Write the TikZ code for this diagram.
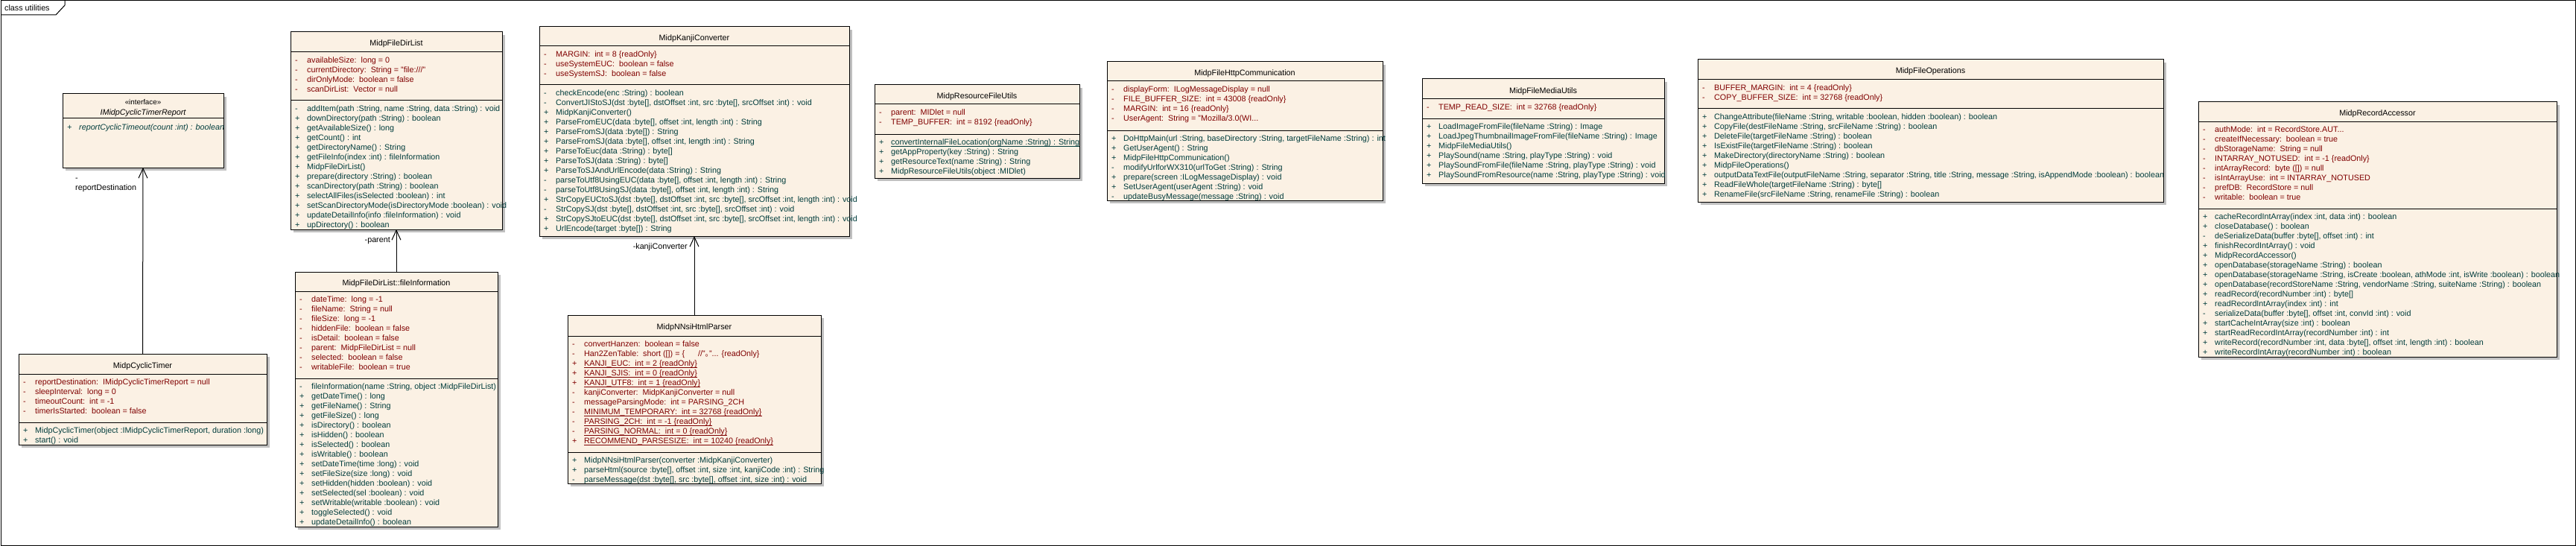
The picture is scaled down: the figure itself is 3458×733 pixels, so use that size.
\documentclass[tikz,border=0pt]{standalone}
\usepackage{fontspec}
\setmainfont{Liberation Sans}
\newfontfamily\cjkf{Noto Sans CJK JP}
\usetikzlibrary{arrows.meta}
\definecolor{boxfill}{RGB}{251,241,228}
\definecolor{attrc}{RGB}{128,0,0}
\definecolor{methc}{RGB}{0,60,60}
\definecolor{shadowc}{RGB}{192,192,192}
\newcommand\umlfont{\fontsize{10.77pt}{13pt}\selectfont}
\newcommand\vis[1]{\makebox[16pt][l]{#1}}
\newcommand\acol{:\ \ }
\newcommand\ulx[1]{\setbox0\hbox{#1}\rlap{\rule[-2.2pt]{\wd0}{0.9pt}}\box0}
\tikzset{
  classbox/.style={draw=black, line width=1pt, fill=boxfill, inner sep=0pt, outer sep=0pt},
  sepline/.style={draw=black, line width=1pt},
  frameline/.style={draw=black, line width=1pt},
  namestyle/.style={anchor=base, inner sep=0pt, font=\umlfont, text=black},
  rowstyle/.style={anchor=base west, inner sep=0pt, font=\umlfont},
  assoc/.style={draw=black, line width=1pt, -{Straight Barb[length=13pt,width=12pt]}},
  lbl/.style={inner sep=0pt, font=\umlfont, text=black},
}
% #1 id, #2 left, #3 top, #4 right, #5 bottom, #6 sep1, #7 sep2, #8 name
\newcommand\umlbox[8]{%
  \fill[shadowc] (#2+4,#3+4) rectangle (#4+4,#5+4);
  \node[classbox, minimum width={#4-#2}, minimum height={#5-#3}] (#1) at ({(#2+#4)/2},{(#3+#5)/2}) {};
  \draw[sepline] (#2,#6) -- (#4,#6);
  \draw[sepline] (#2,#7) -- (#4,#7);
  \node[namestyle] (#1-name) at ({(#2+#4)/2},{(#3+#6)/2+5.5}) {#8};
}
% #1 id, #2 left, #3 separator y, #4 colour, #5 rows
\newcommand\umlrows[5]{%
  \node[rowstyle, text=#4] (#1) at (#2+6,#3+14.6) {\begin{tabular}[t]{@{}l@{}}#5\end{tabular}};
}
\begin{document}
\begin{tikzpicture}[x=1pt,y=-1pt]
\useasboundingbox (0,0) rectangle (3458,733);
\draw[frameline] (1,1) rectangle (3457,732);
\draw[frameline] (1,20) -- (75,20) -- (87,7) -- (87,1);
\node[lbl, anchor=base west] (title) at (6,15) {class utilities};

% ---------------- interface
\fill[shadowc] (88,130) rectangle (304,229);
\node[classbox, minimum width=216, minimum height=99] (iface) at (192,175.5) {};
\draw[sepline] (84,158) -- (300,158);
\node[namestyle, font=\fontsize{9.8pt}{12pt}\selectfont] (iface-st) at (192,140) {«interface»};
\node[namestyle, font=\umlfont\itshape] (iface-name) at (192,154.6) {IMidpCyclicTimerReport};
\node[rowstyle, text=methc, font=\umlfont\itshape] (iface-m) at (90,175) {\begin{tabular}[t]{@{}l@{}}\vis{+}reportCyclicTimeout(count :int) : boolean\end{tabular}};

% ---------------- MidpCyclicTimer
\umlbox{timer}{25}{475}{358}{597}{502}{567}{MidpCyclicTimer}
\umlrows{timer-a}{25}{502}{attrc}{%
\vis{-}reportDestination\acol IMidpCyclicTimerReport = null\\
\vis{-}sleepInterval\acol long = 0\\
\vis{-}timeoutCount\acol int = -1\\
\vis{-}timerIsStarted\acol boolean = false}
\umlrows{timer-m}{25}{567}{methc}{%
\vis{+}MidpCyclicTimer(object :IMidpCyclicTimerReport, duration :long)\\
\vis{+}start() : void}

% ---------------- MidpFileDirList
\umlbox{fdl}{390}{43}{674}{308}{70}{135}{MidpFileDirList}
\umlrows{fdl-a}{390}{70}{attrc}{%
\vis{-}availableSize\acol long = 0\\
\vis{-}currentDirectory\acol String = "file:///"\\
\vis{-}dirOnlyMode\acol boolean = false\\
\vis{-}scanDirList\acol Vector = null}
\umlrows{fdl-m}{390}{135}{methc}{%
\vis{-}addItem(path :String, name :String, data :String) : void\\
\vis{+}downDirectory(path :String) : boolean\\
\vis{+}getAvailableSize() : long\\
\vis{+}getCount() : int\\
\vis{+}getDirectoryName() : String\\
\vis{+}getFileInfo(index :int) : fileInformation\\
\vis{+}MidpFileDirList()\\
\vis{+}prepare(directory :String) : boolean\\
\vis{+}scanDirectory(path :String) : boolean\\
\vis{+}selectAllFiles(isSelected :boolean) : int\\
\vis{+}setScanDirectoryMode(isDirectoryMode :boolean) : void\\
\vis{+}updateDetailInfo(info :fileInformation) : void\\
\vis{+}upDirectory() : boolean}

% ---------------- MidpFileDirList::fileInformation
\umlbox{finfo}{396}{365}{668}{707}{391}{508}{MidpFileDirList::fileInformation}
\umlrows{finfo-a}{396}{391}{attrc}{%
\vis{-}dateTime\acol long = -1\\
\vis{-}fileName\acol String = null\\
\vis{-}fileSize\acol long = -1\\
\vis{-}hiddenFile\acol boolean = false\\
\vis{-}isDetail\acol boolean = false\\
\vis{-}parent\acol MidpFileDirList = null\\
\vis{-}selected\acol boolean = false\\
\vis{-}writableFile\acol boolean = true}
\umlrows{finfo-m}{396}{508}{methc}{%
\vis{-}fileInformation(name :String, object :MidpFileDirList)\\
\vis{+}getDateTime() : long\\
\vis{+}getFileName() : String\\
\vis{+}getFileSize() : long\\
\vis{+}isDirectory() : boolean\\
\vis{+}isHidden() : boolean\\
\vis{+}isSelected() : boolean\\
\vis{+}isWritable() : boolean\\
\vis{+}setDateTime(time :long) : void\\
\vis{+}setFileSize(size :long) : void\\
\vis{+}setHidden(hidden :boolean) : void\\
\vis{+}setSelected(sel :boolean) : void\\
\vis{+}setWritable(writable :boolean) : void\\
\vis{+}toggleSelected() : void\\
\vis{+}updateDetailInfo() : boolean}

% ---------------- MidpKanjiConverter
\umlbox{kanji}{724}{36}{1140}{317}{62}{114}{MidpKanjiConverter}
\umlrows{kanji-a}{724}{62}{attrc}{%
\vis{-}MARGIN\acol int = 8 \{readOnly\}\\
\vis{-}useSystemEUC\acol boolean = false\\
\vis{-}useSystemSJ\acol boolean = false}
\umlrows{kanji-m}{724}{114}{methc}{%
\vis{-}checkEncode(enc :String) : boolean\\
\vis{-}ConvertJIStoSJ(dst :byte[], dstOffset :int, src :byte[], srcOffset :int) : void\\
\vis{+}MidpKanjiConverter()\\
\vis{+}ParseFromEUC(data :byte[], offset :int, length :int) : String\\
\vis{+}ParseFromSJ(data :byte[]) : String\\
\vis{+}ParseFromSJ(data :byte[], offset :int, length :int) : String\\
\vis{+}ParseToEuc(data :String) : byte[]\\
\vis{+}ParseToSJ(data :String) : byte[]\\
\vis{+}ParseToSJAndUrlEncode(data :String) : String\\
\vis{-}parseToUtf8UsingEUC(data :byte[], offset :int, length :int) : String\\
\vis{-}parseToUtf8UsingSJ(data :byte[], offset :int, length :int) : String\\
\vis{+}StrCopyEUCtoSJ(dst :byte[], dstOffset :int, src :byte[], srcOffset :int, length :int) : void\\
\vis{-}StrCopySJ(dst :byte[], dstOffset :int, src :byte[], srcOffset :int) : void\\
\vis{+}StrCopySJtoEUC(dst :byte[], dstOffset :int, src :byte[], srcOffset :int, length :int) : void\\
\vis{+}UrlEncode(target :byte[]) : String}

% ---------------- MidpNNsiHtmlParser
\umlbox{nnsi}{762}{423}{1102}{649}{451}{607}{MidpNNsiHtmlParser}
\umlrows{nnsi-a}{762}{451}{attrc}{%
\vis{-}convertHanzen\acol boolean = false\\
\vis{-}Han2ZenTable\acol short ([]) = \{\ \ \ \ \ \ //"{\cjkf ｡}"... \{readOnly\}\\
\vis{+}\ulx{KANJI\_EUC\acol int = 2 \{readOnly\}}\\
\vis{+}\ulx{KANJI\_SJIS\acol int = 0 \{readOnly\}}\\
\vis{+}\ulx{KANJI\_UTF8\acol int = 1 \{readOnly\}}\\
\vis{-}kanjiConverter\acol MidpKanjiConverter = null\\
\vis{-}messageParsingMode\acol int = PARSING\_2CH\\
\vis{-}\ulx{MINIMUM\_TEMPORARY\acol int = 32768 \{readOnly\}}\\
\vis{-}\ulx{PARSING\_2CH\acol int = -1 \{readOnly\}}\\
\vis{-}\ulx{PARSING\_NORMAL\acol int = 0 \{readOnly\}}\\
\vis{+}\ulx{RECOMMEND\_PARSESIZE\acol int = 10240 \{readOnly\}}}
\umlrows{nnsi-m}{762}{607}{methc}{%
\vis{+}MidpNNsiHtmlParser(converter :MidpKanjiConverter)\\
\vis{+}parseHtml(source :byte[], offset :int, size :int, kanjiCode :int) : String\\
\vis{-}parseMessage(dst :byte[], src :byte[], offset :int, size :int) : void}

% ---------------- MidpResourceFileUtils
\umlbox{res}{1174}{114}{1449}{239}{140}{180}{MidpResourceFileUtils}
\umlrows{res-a}{1174}{140}{attrc}{%
\vis{-}parent\acol MIDlet = null\\
\vis{-}TEMP\_BUFFER\acol int = 8192 \{readOnly\}}
\umlrows{res-m}{1174}{180}{methc}{%
\vis{+}\ulx{convertInternalFileLocation(orgName :String) : String}\\
\vis{+}getAppProperty(key :String) : String\\
\vis{+}getResourceText(name :String) : String\\
\vis{+}MidpResourceFileUtils(object :MIDlet)}

% ---------------- MidpFileHttpCommunication
\umlbox{http}{1486}{83}{1856}{269}{109}{175}{MidpFileHttpCommunication}
\umlrows{http-a}{1486}{109}{attrc}{%
\vis{-}displayForm\acol ILogMessageDisplay = null\\
\vis{-}FILE\_BUFFER\_SIZE\acol int = 43008 \{readOnly\}\\
\vis{-}MARGIN\acol int = 16 \{readOnly\}\\
\vis{-}UserAgent\acol String = "Mozilla/3.0(WI...}
\umlrows{http-m}{1486}{175}{methc}{%
\vis{+}DoHttpMain(url :String, baseDirectory :String, targetFileName :String) : int\\
\vis{+}GetUserAgent() : String\\
\vis{+}MidpFileHttpCommunication()\\
\vis{-}modifyUrlforWX310(urlToGet :String) : String\\
\vis{+}prepare(screen :ILogMessageDisplay) : void\\
\vis{+}SetUserAgent(userAgent :String) : void\\
\vis{-}updateBusyMessage(message :String) : void}

% ---------------- MidpFileMediaUtils
\umlbox{media}{1909}{106}{2234}{246}{133}{159}{MidpFileMediaUtils}
\umlrows{media-a}{1909}{133}{attrc}{%
\vis{-}TEMP\_READ\_SIZE\acol int = 32768 \{readOnly\}}
\umlrows{media-m}{1909}{159}{methc}{%
\vis{+}LoadImageFromFile(fileName :String) : Image\\
\vis{+}LoadJpegThumbnailImageFromFile(fileName :String) : Image\\
\vis{+}MidpFileMediaUtils()\\
\vis{+}PlaySound(name :String, playType :String) : void\\
\vis{+}PlaySoundFromFile(fileName :String, playType :String) : void\\
\vis{+}PlaySoundFromResource(name :String, playType :String) : void}

% ---------------- MidpFileOperations
\umlbox{fops}{2279}{80}{2904}{271}{107}{146}{MidpFileOperations}
\umlrows{fops-a}{2279}{107}{attrc}{%
\vis{-}BUFFER\_MARGIN\acol int = 4 \{readOnly\}\\
\vis{-}COPY\_BUFFER\_SIZE\acol int = 32768 \{readOnly\}}
\umlrows{fops-m}{2279}{146}{methc}{%
\vis{+}ChangeAttribute(fileName :String, writable :boolean, hidden :boolean) : boolean\\
\vis{+}CopyFile(destFileName :String, srcFileName :String) : boolean\\
\vis{+}DeleteFile(targetFileName :String) : boolean\\
\vis{+}IsExistFile(targetFileName :String) : boolean\\
\vis{+}MakeDirectory(directoryName :String) : boolean\\
\vis{+}MidpFileOperations()\\
\vis{+}outputDataTextFile(outputFileName :String, separator :String, title :String, message :String, isAppendMode :boolean) : boolean\\
\vis{+}ReadFileWhole(targetFileName :String) : byte[]\\
\vis{+}RenameFile(srcFileName :String, renameFile :String) : boolean}

% ---------------- MidpRecordAccessor
\umlbox{rec}{2951}{137}{3432}{479}{163}{280}{MidpRecordAccessor}
\umlrows{rec-a}{2951}{163}{attrc}{%
\vis{-}authMode\acol int = RecordStore.AUT...\\
\vis{-}createIfNecessary\acol boolean = true\\
\vis{-}dbStorageName\acol String = null\\
\vis{-}INTARRAY\_NOTUSED\acol int = -1 \{readOnly\}\\
\vis{-}intArrayRecord\acol byte ([]) = null\\
\vis{-}isIntArrayUse\acol int = INTARRAY\_NOTUSED\\
\vis{-}prefDB\acol RecordStore = null\\
\vis{-}writable\acol boolean = true}
\umlrows{rec-m}{2951}{280}{methc}{%
\vis{+}cacheRecordIntArray(index :int, data :int) : boolean\\
\vis{+}closeDatabase() : boolean\\
\vis{-}deSerializeData(buffer :byte[], offset :int) : int\\
\vis{+}finishRecordIntArray() : void\\
\vis{+}MidpRecordAccessor()\\
\vis{+}openDatabase(storageName :String) : boolean\\
\vis{+}openDatabase(storageName :String, isCreate :boolean, athMode :int, isWrite :boolean) : boolean\\
\vis{+}openDatabase(recordStoreName :String, vendorName :String, suiteName :String) : boolean\\
\vis{+}readRecord(recordNumber :int) : byte[]\\
\vis{+}readRecordIntArray(index :int) : int\\
\vis{-}serializeData(buffer :byte[], offset :int, convId :int) : void\\
\vis{+}startCacheIntArray(size :int) : boolean\\
\vis{+}startReadRecordIntArray(recordNumber :int) : int\\
\vis{+}writeRecord(recordNumber :int, data :byte[], offset :int, length :int) : boolean\\
\vis{+}writeRecordIntArray(recordNumber :int) : boolean}

% ---------------- associations
\draw[assoc] (timer.north) -- (iface.south);
\node[lbl, anchor=base west] (lbl-rd) at (101,242) {\begin{tabular}[t]{@{}l@{}}-\\reportDestination\end{tabular}};
\draw[assoc] (finfo.north) -- (fdl.south);
\node[lbl, anchor=base east] (lbl-parent) at (524,325) {-parent};
\draw[assoc] (nnsi.north) -- (kanji.south);
\node[lbl, anchor=base east] (lbl-kanji) at (923,334) {-kanjiConverter};
\end{tikzpicture}
\end{document}
